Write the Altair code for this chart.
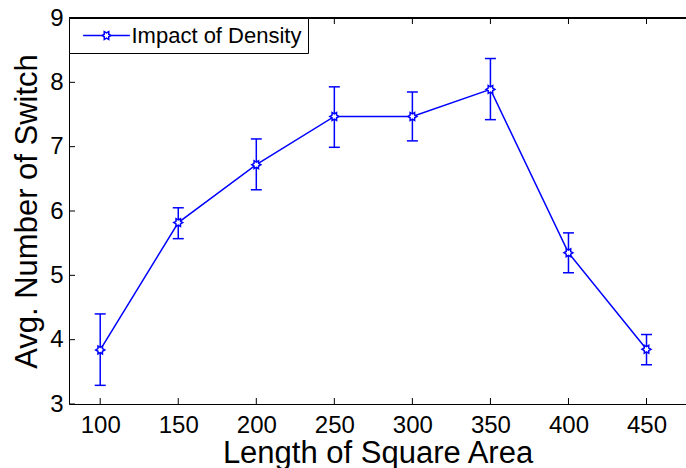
import altair as alt
import pandas as pd

# ---- data ----
lengths = [100, 150, 200, 250, 300, 350, 400, 450]
avg_switch = [3.84, 5.82, 6.72, 7.47, 7.47, 7.89, 5.35, 3.85]
err_low = [3.29, 5.57, 6.33, 6.99, 7.09, 7.42, 5.04, 3.61]
err_high = [4.40, 6.05, 7.12, 7.93, 7.85, 8.37, 5.66, 4.08]
series_name = "Impact of Density"
x_ticks = [100, 150, 200, 250, 300, 350, 400, 450]
y_ticks = [3, 4, 5, 6, 7, 8, 9]
x_domain = [80, 475.3]
y_domain = [3, 9]

FONT = "Liberation Sans, Arial, Helvetica, sans-serif"
BLUE = "#0000ff"
W, H = 617, 386

HEX = ("M1,0L0.5,-0.289L0.5,-0.866L0,-0.577L-0.5,-0.866L-0.5,-0.289L-1,0"
       "L-0.5,0.289L-0.5,0.866L0,0.577L0.5,0.866L0.5,0.289Z")
LEG_SYM = "M-5.2,0L-1,0M1,0L5.2,0" + HEX
CAP = "M-1,0L1,0"

df = pd.DataFrame({
    "x": lengths, "y": avg_switch, "lo": err_low, "hi": err_high,
    "series": [series_name] * len(lengths),
})
caps = pd.concat([
    pd.DataFrame({"x": lengths, "v": err_low}),
    pd.DataFrame({"x": lengths, "v": err_high}),
])
xt = pd.DataFrame({"t": x_ticks})
yt = pd.DataFrame({"t": y_ticks})

xs = alt.Scale(domain=x_domain, nice=False, zero=False)
ys = alt.Scale(domain=y_domain, nice=False, zero=False)

x_axis = alt.Axis(values=x_ticks, tickSize=0, labelFontSize=24, labelFont=FONT,
                  labelColor="black", labelPadding=9, domainColor="black",
                  domainWidth=1, grid=False, title="Length of Square Area",
                  titleFontSize=31, titleFont=FONT, titleFontWeight="normal",
                  titleColor="black", titlePadding=1, labelFlush=False,
                  format="d")
y_axis = alt.Axis(values=y_ticks, tickSize=0, labelFontSize=24, labelFont=FONT,
                  labelColor="black", labelPadding=6, domainColor="black",
                  domainWidth=1, grid=False, title="Avg. Number of Switch",
                  titleFontSize=31, titleFont=FONT, titleFontWeight="normal",
                  titleColor="black", titlePadding=6, labelFlush=False,
                  format="d")

base = alt.Chart(df)

line = base.mark_line(strokeWidth=1.5).encode(
    x=alt.X("x:Q", scale=xs, axis=x_axis),
    y=alt.Y("y:Q", scale=ys, axis=y_axis),
    color=alt.Color("series:N", scale=alt.Scale(range=[BLUE]),
                    legend=alt.Legend(title=None, orient="none", legendX=0,
                                      legendY=0, symbolType=LEG_SYM,
                                      symbolSize=81, symbolStrokeWidth=1.5,
                                      symbolFillColor="white",
                                      symbolStrokeColor=BLUE,
                                      symbolOffset=20, labelOffset=14,
                                      labelLimit=400,
                                      labelFontSize=22, labelFont=FONT,
                                      labelColor="black", padding=6.5,
                                      strokeColor="black", fillColor="white",
                                      cornerRadius=0, zindex=5)),
)
bars = base.mark_rule(color=BLUE, strokeWidth=1.5).encode(
    x=alt.X("x:Q", scale=xs),
    y=alt.Y("lo:Q", scale=ys),
    y2="hi:Q",
)
capmarks = alt.Chart(caps).mark_point(shape=CAP, size=121, color=BLUE,
                                      strokeWidth=1.5, opacity=1,
                                      filled=False).encode(
    x=alt.X("x:Q", scale=xs),
    y=alt.Y("v:Q", scale=ys),
)
points = base.mark_point(shape=HEX, size=81, fill="white", stroke=BLUE,
                         filled=False, strokeWidth=1.5, opacity=1).encode(
    x=alt.X("x:Q", scale=xs),
    y=alt.Y("y:Q", scale=ys),
)

# inward tick marks (MATLAB style) and top frame line
bot_ticks = alt.Chart(xt).mark_rule(color="black", strokeWidth=1).encode(
    x=alt.X("t:Q", scale=xs), y=alt.value(H), y2=alt.value(H - 6))
top_ticks = alt.Chart(xt).mark_rule(color="black", strokeWidth=1).encode(
    x=alt.X("t:Q", scale=xs), y=alt.value(0), y2=alt.value(6))
left_ticks = alt.Chart(yt).mark_rule(color="black", strokeWidth=1).encode(
    y=alt.Y("t:Q", scale=ys), x=alt.value(0), x2=alt.value(6))
top_line = alt.Chart(yt).mark_rule(color="black", strokeWidth=1).encode(
    y=alt.datum(y_domain[1], scale=ys), x=alt.datum(x_domain[0], scale=xs),
    x2=alt.datum(x_domain[1]))

chart = alt.layer(
    bot_ticks, top_ticks, left_ticks, top_line, line, bars, capmarks, points
).properties(
    width=W, height=H,
    padding={"left": 69, "top": 18, "right": 0, "bottom": 64},
    autosize=alt.AutoSizeParams(type="none"),
    background="white",
).configure_view(stroke=None)

chart.save("out.html", embed_options={"renderer": "svg", "actions": False})
